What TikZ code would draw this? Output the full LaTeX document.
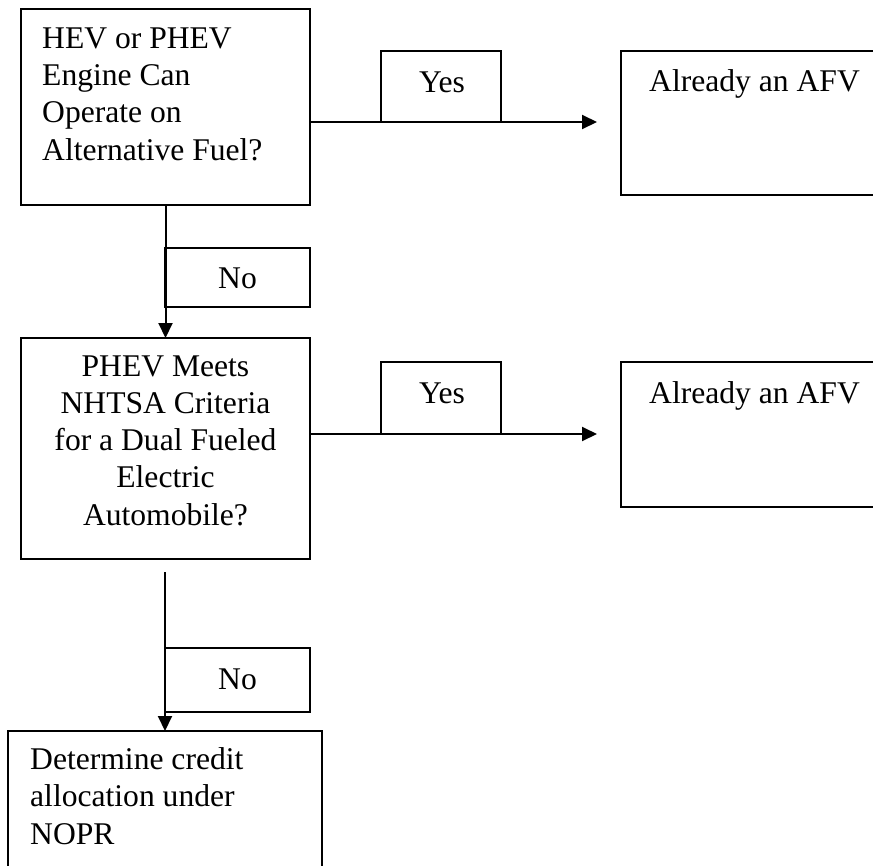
\documentclass[tikz,border=0pt]{standalone}
\usepackage{fontspec}
\setmainfont{Liberation Serif}
\usetikzlibrary{arrows.meta}
\begin{document}
\begin{tikzpicture}[x=1pt,y=-1pt,
  box/.style={draw, line width=2pt, rectangle, inner sep=0pt, outer sep=0pt, anchor=north west},
  txt/.style={inner sep=0pt, font=\fontsize{31.6}{37.2}\selectfont},
  conn/.style={line width=2pt},
  arr/.style={conn, -{Triangle[length=15pt,width=14pt]}}]
\useasboundingbox (0,0) rectangle (873,865);
\clip (0,0) rectangle (873,865);
% boxes
\node[box, minimum width=289, minimum height=196] (q1) at (21,9) {};
\node[box, minimum width=120, minimum height=71] (yes1) at (381,51) {};
\node[box, minimum width=300, minimum height=144] (afv1) at (621,51) {};
\node[box, minimum width=145, minimum height=59] (no1) at (165,248) {};
\node[box, minimum width=289, minimum height=221] (q2) at (21,338) {};
\node[box, minimum width=120, minimum height=72] (yes2) at (381,362) {};
\node[box, minimum width=300, minimum height=145] (afv2) at (621,362) {};
\node[box, minimum width=145, minimum height=64] (no2) at (165,648) {};
\node[box, minimum width=314, minimum height=200] (res) at (8,731) {};
% texts (base anchor = baseline of last line)
\node[txt, anchor=base west, align=left] (q1t) at (42,160) {HEV or PHEV\\Engine Can\\Operate on\\Alternative Fuel?};
\node[txt, anchor=base] (yes1t) at (442,92) {Yes};
\node[txt, anchor=base west] (afv1t) at (649,91) {Already an AFV};
\node[txt, anchor=base] (no1t) at (237.5,288) {No};
\node[txt, anchor=base, align=center] (q2t) at (165.5,525) {PHEV Meets\\NHTSA Criteria\\for a Dual Fueled\\Electric\\Automobile?};
\node[txt, anchor=base] (yes2t) at (442,403) {Yes};
\node[txt, anchor=base west] (afv2t) at (649,403) {Already an AFV};
\node[txt, anchor=base] (no2t) at (237.5,689) {No};
\node[txt, anchor=base west, align=left] (rest) at (30,844) {Determine credit\\allocation under\\NOPR};
% connectors
\coordinate (tip1) at (597,122);
\coordinate (tip2) at (597,434);
\coordinate (s2) at (165,572);
\draw[arr] (q1.east |- yes1.south) -- (tip1);
\draw[arr] (q1.south) -- (q2.north);
\draw[arr] (q2.east |- yes2.south) -- (tip2);
\draw[arr] (s2) -- (s2 |- res.north);
\end{tikzpicture}
\end{document}
